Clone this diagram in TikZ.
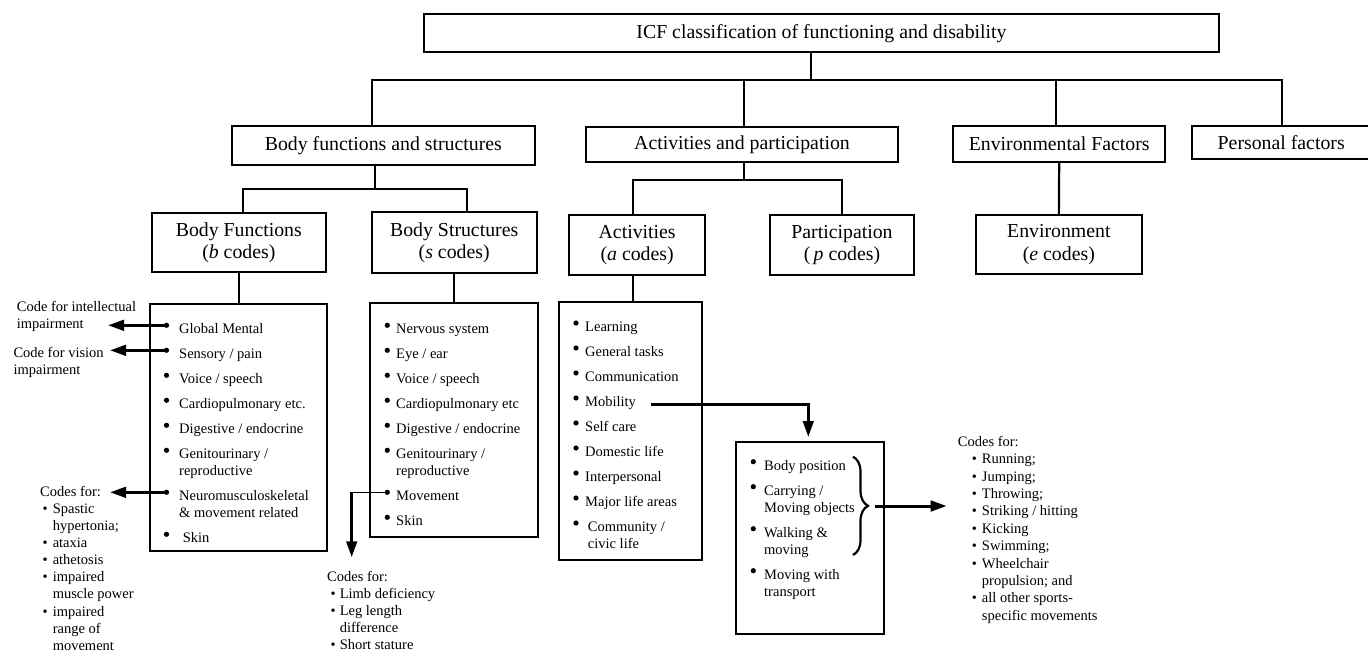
\documentclass[tikz,border=0pt]{standalone}
\usepackage{fontspec}
\setmainfont{Liberation Serif}
\usetikzlibrary{arrows.meta,decorations.pathreplacing}
\newcommand{\icfitem}[5]{%
  \node[bul] (#1b) at (#2,#4-8.5) {};
  \node[itm] (#1) at (#3,#4) {\begin{tabular}[t]{@{}l@{}}#5\end{tabular}};}
\begin{document}
\begin{tikzpicture}[x=1pt,y=-1pt,
  box/.style={draw, line width=2.2pt, inner sep=0pt, align=center, font=\fontsize{19.8}{22.4}\selectfont},
  ln/.style={line width=2.2pt},
  arr/.style={line width=3pt, -{Triangle[length=16pt,width=10.5pt]}},
  itm/.style={anchor=base west, inner sep=0pt, font=\fontsize{14.5}{17}\selectfont},
  cds/.style={anchor=base west, inner sep=0pt, font=\fontsize{14.5}{17.1}\selectfont},
  bul/.style={circle, fill, inner sep=0pt, minimum size=5.2pt}]
\useasboundingbox (0,0) rectangle (1368,653);

% ---- boxes ----
\node[box, minimum width=795pt, minimum height=38pt] (icf) at (821.5,33.3) {ICF classification of functioning and disability};
\node[box, minimum width=303.3pt, minimum height=39pt] (bfs) at (383.35,145.5) {Body functions and structures};
\node[box, minimum width=312.6pt, minimum height=35.6pt] (ap) at (742,144.5) {Activities and participation};
\node[box, minimum width=211.7pt, minimum height=35.4pt] (ef) at (1059.2,144) {Environmental Factors};
\node[box, minimum width=177.7pt, minimum height=33pt] (pf) at (1281.2,142.5) {Personal factors};
\node[box, minimum width=174.3pt, minimum height=58.4pt] (bf) at (238.85,242.5) {Body Functions\\(\textit{b} codes)};
\node[box, minimum width=165pt, minimum height=60.4pt] (bs) at (454.2,242.5) {Body Structures\\(\textit{s} codes)};
\node[box, minimum width=135.7pt, minimum height=60.6pt] (act) at (637.15,245) {Activities\\(\textit{a} codes)};
\node[box, minimum width=144pt, minimum height=60.6pt] (par) at (842,245) {Participation\\(\,\textit{p} codes)};
\node[box, minimum width=165.7pt, minimum height=59pt] (env) at (1058.85,244.5) {Environment\\(\textit{e} codes)};

\node[box, minimum width=176.7pt, minimum height=246.4pt] (bfl) at (238.35,427.5) {};
\node[box, minimum width=168.3pt, minimum height=233.4pt] (bsl) at (454.15,420) {};
\node[box, minimum width=142.7pt, minimum height=258.3pt] (actl) at (630.35,430.85) {};
\node[box, minimum width=148.6pt, minimum height=192.3pt] (mobl) at (810,537.85) {};

% ---- tree connectors ----
\coordinate (j0) at (811,80);
\coordinate (jbfs) at (372.3,80);
\coordinate (jap) at (744.3,80);
\coordinate (jef) at (1056,80);
\coordinate (jpf) at (1282.3,80);
\draw[ln] (icf.south -| j0) -- (j0);
\draw[ln] (jbfs |- bfs.north) -- (jbfs) -- (jpf) -- (jpf |- pf.north);
\draw[ln] (jap) -- (jap |- ap.north);
\draw[ln] (jef) -- (jef |- ef.north);

\coordinate (k1) at (375.3,189);
\coordinate (k1l) at (242.7,189);
\coordinate (k1r) at (466.7,189);
\draw[ln] (bfs.south -| k1) -- (k1);
\draw[ln] (k1l |- bf.north) -- (k1l) -- (k1r) -- (k1r |- bs.north);

\coordinate (k2) at (744,180.3);
\coordinate (k2l) at (633.3,180.3);
\coordinate (k2r) at (842.3,180.3);
\draw[ln] (ap.south -| k2) -- (k2);
\draw[ln] (k2l |- act.north) -- (k2l) -- (k2r) -- (k2r |- par.north);

\draw[ln] (ef.south) -- (env.north);
\draw[ln] (bf.south) -- (bf.south |- bfl.north);
\draw[ln] (bs.south) -- (bs.south |- bsl.north);
\draw[ln] (k2l |- act.south) -- (k2l |- actl.north);

% ---- Body functions list ----
\icfitem{bf1}{166.5}{179}{333.8}{Global Mental}
\icfitem{bf2}{166.5}{179}{358.8}{Sensory / pain}
\icfitem{bf3}{166.5}{179}{383.8}{Voice / speech}
\icfitem{bf4}{166.5}{179}{408.8}{Cardiopulmonary etc.}
\icfitem{bf5}{166.5}{179}{433.8}{Digestive / endocrine}
\icfitem{bf6}{166.5}{179}{458.8}{Genitourinary /\\reproductive}
\icfitem{bf7}{166.5}{179}{500.8}{Neuromusculoskeletal\\\& movement related}
\icfitem{bf8}{166.5}{182.7}{542.8}{Skin}

% ---- Body structures list ----
\icfitem{bs1}{387.3}{396}{333.8}{Nervous system}
\icfitem{bs2}{387.3}{396}{358.8}{Eye / ear}
\icfitem{bs3}{387.3}{396}{383.8}{Voice / speech}
\icfitem{bs4}{387.3}{396}{408.8}{Cardiopulmonary etc}
\icfitem{bs5}{387.3}{396}{433.8}{Digestive / endocrine}
\icfitem{bs6}{387.3}{396}{458.8}{Genitourinary /\\reproductive}
\icfitem{bs7}{387.3}{396}{500.8}{Movement}
\icfitem{bs8}{387.3}{396}{525.8}{Skin}

% ---- Activities list ----
\icfitem{a1}{576}{585}{331.5}{Learning}
\icfitem{a2}{576}{585}{356.5}{General tasks}
\icfitem{a3}{576}{585}{381.5}{Communication}
\icfitem{a4}{576}{585}{406.5}{Mobility}
\icfitem{a5}{576}{585}{431.5}{Self care}
\icfitem{a6}{576}{585}{456.5}{Domestic life}
\icfitem{a7}{576}{585}{481.5}{Interpersonal}
\icfitem{a8}{576}{585}{506.5}{Major life areas}
\icfitem{a9}{576}{587.7}{531.5}{Community /\\civic life}

% ---- Mobility list ----
\icfitem{m1}{753.3}{764}{470.2}{Body position}
\icfitem{m2}{753.3}{764}{495.2}{Carrying /\\Moving objects}
\icfitem{m3}{753.3}{764}{537.2}{Walking \&\\moving}
\icfitem{m4}{753.3}{764}{579.2}{Moving with\\transport}

% ---- side texts ----
\node[itm] (lint) at (16.7,311.2) {\begin{tabular}[t]{@{}l@{}}Code for intellectual\\impairment\end{tabular}};
\node[itm] (lvis) at (13.3,357.2) {\begin{tabular}[t]{@{}l@{}}Code for vision\\impairment\end{tabular}};
\node[cds] (lneu) at (40,496.3) {\begin{tabular}[t]{@{}l@{\hspace{5pt}}l@{}}\multicolumn{2}{@{}l@{}}{Codes for:}\\
\hspace{2.5pt}\textbullet & Spastic\\ & hypertonia;\\
\hspace{2.5pt}\textbullet & ataxia\\
\hspace{2.5pt}\textbullet & athetosis\\
\hspace{2.5pt}\textbullet & impaired\\ & muscle power\\
\hspace{2.5pt}\textbullet & impaired\\ & range of\\ & movement\end{tabular}};
\node[cds] (lmov) at (327,581) {\begin{tabular}[t]{@{}l@{\hspace{4pt}}l@{}}\multicolumn{2}{@{}l@{}}{Codes for:}\\
\hspace{3.5pt}\textbullet & Limb deficiency\\
\hspace{3.5pt}\textbullet & Leg length\\ & difference\\
\hspace{3.5pt}\textbullet & Short stature\end{tabular}};
\node[cds, font=\fontsize{14.5}{17.4}\selectfont] (lsport) at (957.7,446.2) {\begin{tabular}[t]{@{}l@{\hspace{5pt}}l@{}}\multicolumn{2}{@{}l@{}}{Codes for:}\\
\hspace{14pt}\textbullet & Running;\\
\hspace{14pt}\textbullet & Jumping;\\
\hspace{14pt}\textbullet & Throwing;\\
\hspace{14pt}\textbullet & Striking / hitting\\
\hspace{14pt}\textbullet & Kicking\\
\hspace{14pt}\textbullet & Swimming;\\
\hspace{14pt}\textbullet & Wheelchair\\ & propulsion; and\\
\hspace{14pt}\textbullet & all other sports-\\ & specific movements\end{tabular}};

% ---- arrows ----
\coordinate (t1) at (108,326);
\coordinate (t2) at (110,350);
\coordinate (t3) at (110,493);
\draw[arr] (bf1b.center) -- (bf1b.center -| t1);
\draw[arr] (bf2b.center) -- (bf2b.center -| t2);
\draw[arr] (bf7b.center) -- (bf7b.center -| t3);

\coordinate (tm) at (351.7,557.3);
\draw[line width=1pt] (bs7b.center) -- (bs7b.center -| tm);
\draw[arr] (bs7b.center -| tm) -- (tm);

\coordinate (tmob) at (808.3,437);
\coordinate (smob) at (651,404.3);
\draw[arr] (smob) -| (tmob);

\draw[line width=2.2pt, decorate, decoration={brace, amplitude=15pt}] (853,456.7) -- (853,555);
\coordinate (sbr) at (875,506);
\coordinate (tbr) at (946.7,506);
\draw[arr] (sbr) -- (tbr);
\end{tikzpicture}
\end{document}
